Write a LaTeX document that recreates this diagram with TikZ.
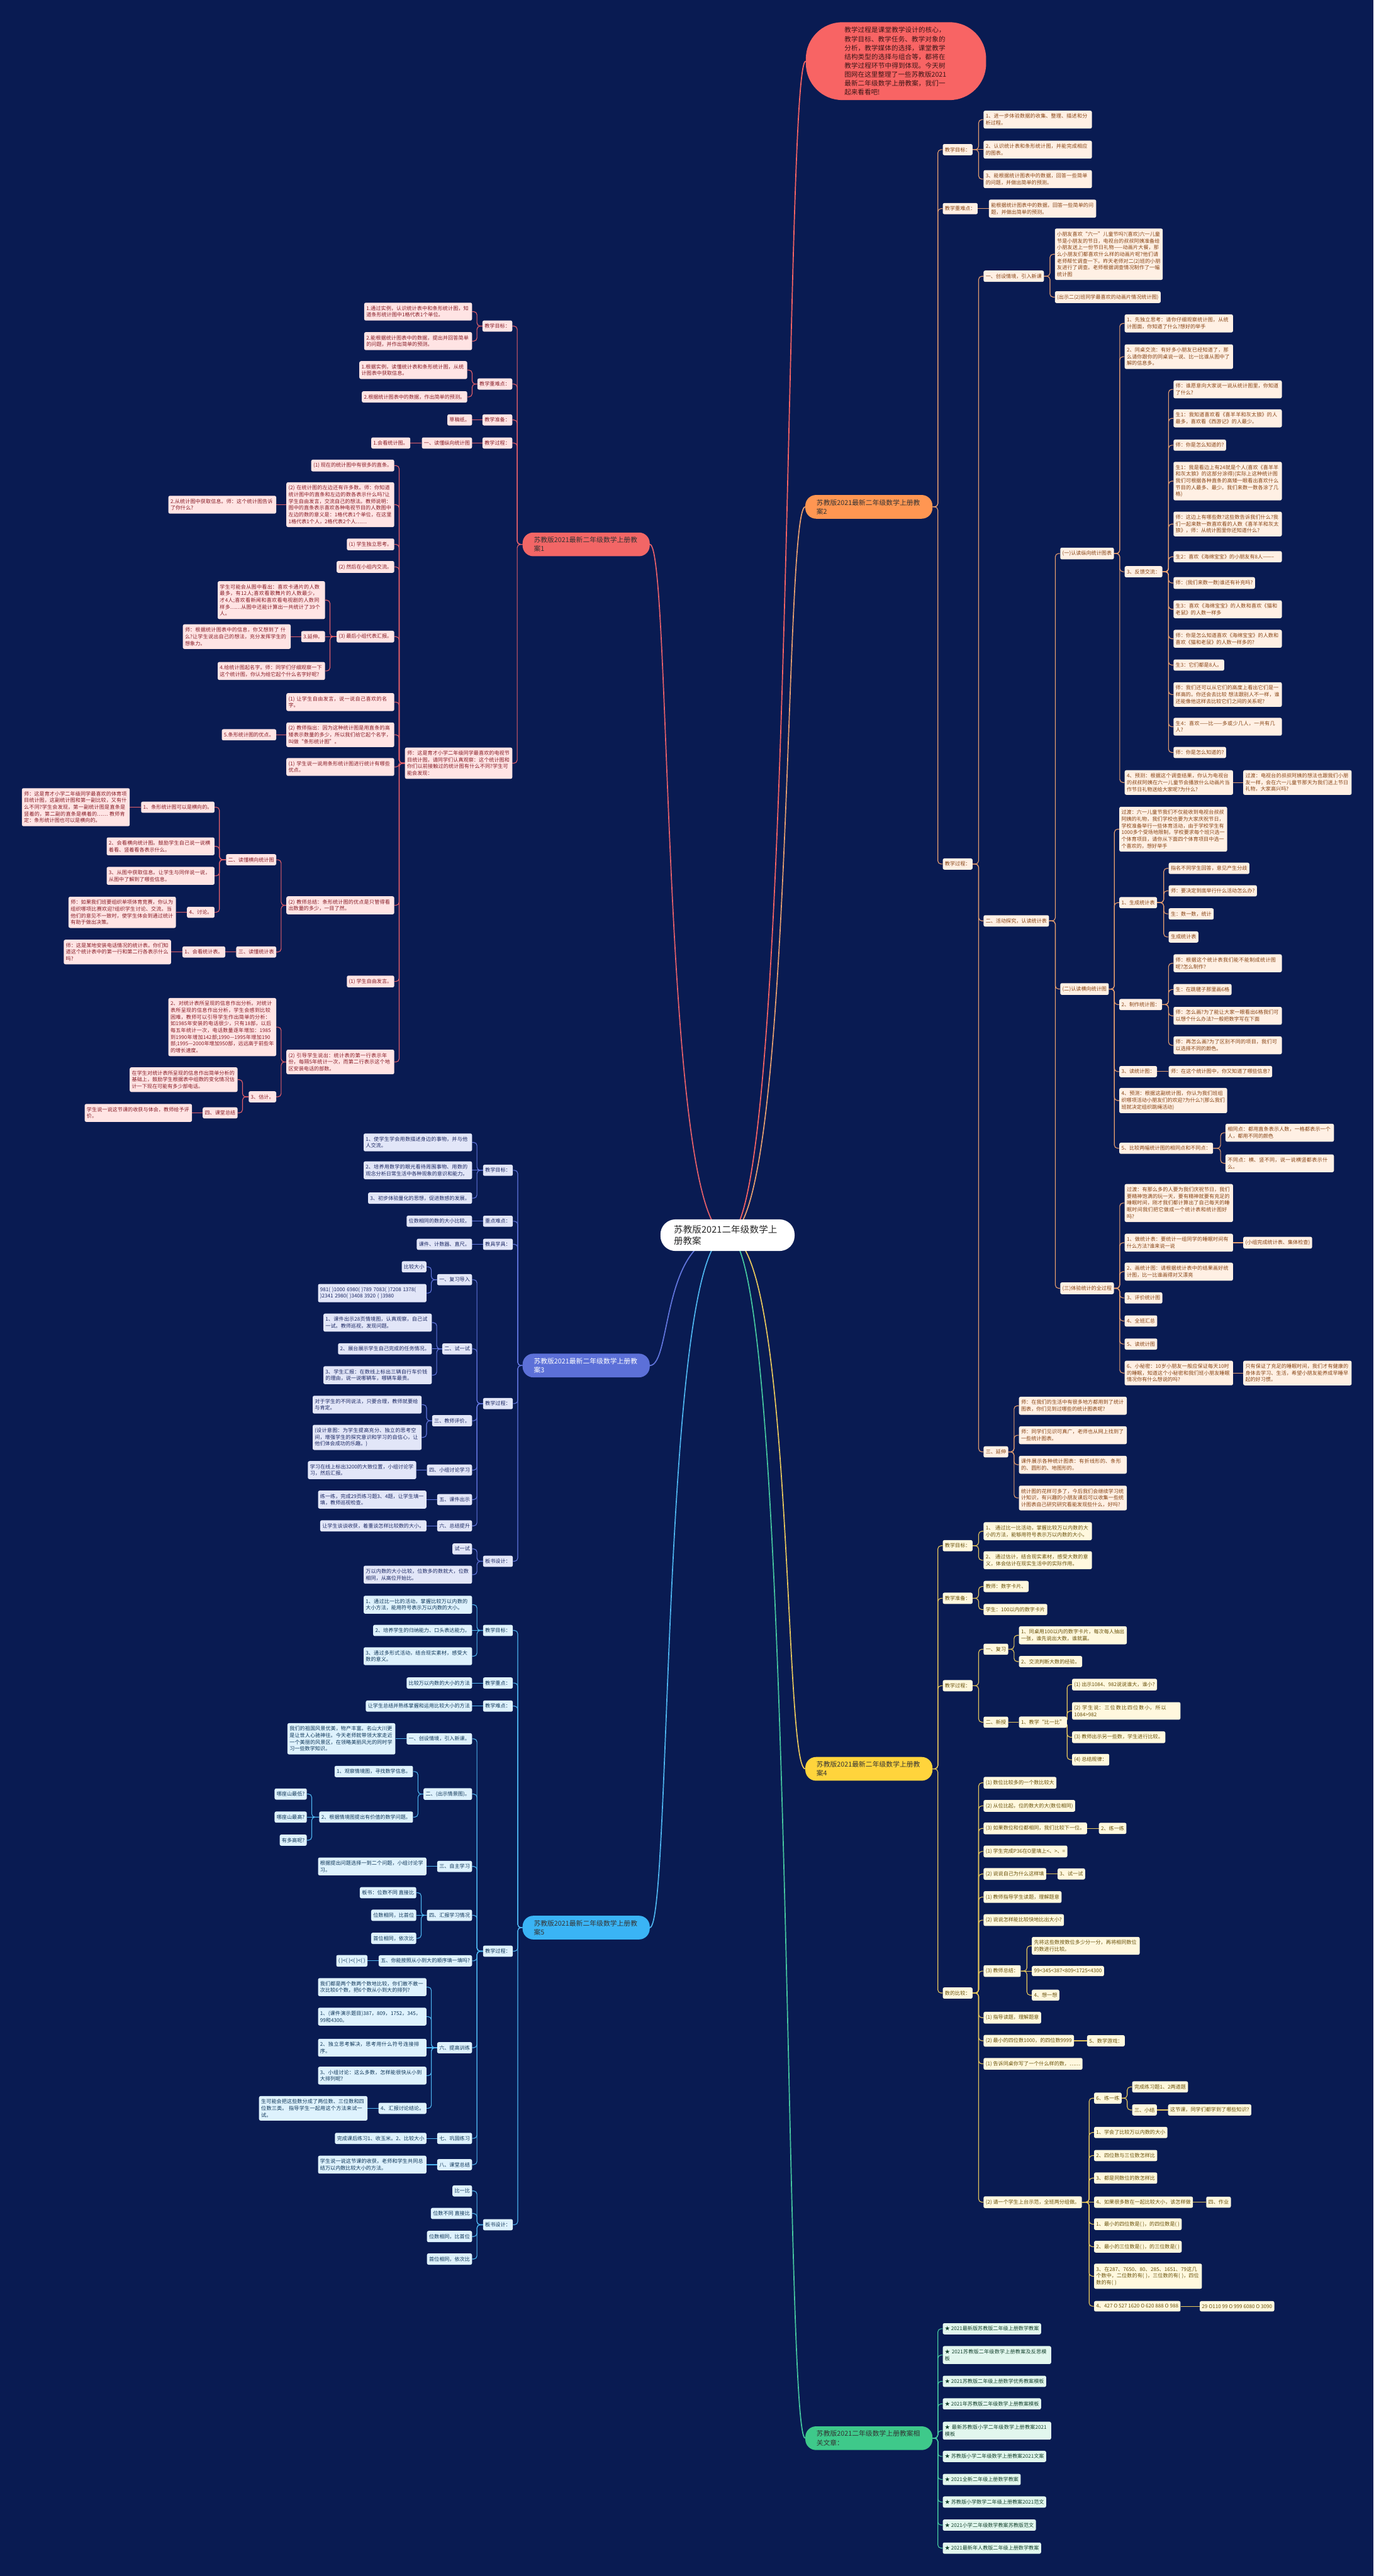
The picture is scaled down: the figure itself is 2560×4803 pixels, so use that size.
\documentclass[tikz,border=0pt]{standalone}
\usepackage{fontspec}
\setmainfont{Noto Sans CJK SC}
\usetikzlibrary{calc}
\XeTeXlinebreaklocale "zh"
\XeTeXlinebreakskip=0pt plus 1pt
\definecolor{bg}{RGB}{9,27,82}
\definecolor{oS}{RGB}{255,150,82}\definecolor{oC}{RGB}{255,240,228}\definecolor{oT}{RGB}{135,68,20}\definecolor{oL}{RGB}{232,160,112}
\definecolor{yS}{RGB}{255,212,60}\definecolor{yC}{RGB}{255,248,222}\definecolor{yT}{RGB}{105,82,10}\definecolor{yL}{RGB}{232,200,92}
\definecolor{gS}{RGB}{62,201,138}\definecolor{gC}{RGB}{226,247,238}\definecolor{gT}{RGB}{22,68,48}\definecolor{gL}{RGB}{70,200,160}
\definecolor{rS}{RGB}{242,102,102}\definecolor{rC}{RGB}{255,228,228}\definecolor{rT}{RGB}{135,28,38}\definecolor{rL}{RGB}{230,96,106}
\definecolor{bS}{RGB}{92,112,216}\definecolor{bC}{RGB}{226,230,248}\definecolor{bT}{RGB}{28,40,100}\definecolor{bL}{RGB}{98,118,222}
\definecolor{lS}{RGB}{58,180,245}\definecolor{lC}{RGB}{222,242,253}\definecolor{lT}{RGB}{14,54,88}\definecolor{lL}{RGB}{78,182,240}
\definecolor{bub}{RGB}{248,100,100}\definecolor{bubT}{RGB}{60,22,22}
\newcommand\fs{\fontsize{9.5}{12.5}\selectfont}
\newcommand\fsec{\fontsize{12.6}{16.5}\selectfont}
\pgfdeclarelayer{bgl}
\pgfsetlayers{bgl,main}
\tikzset{
 nb/.style={rounded corners=3pt, inner xsep=4pt, inner ysep=6pt, align=left, font=\fs},
 kO/.style={nb, fill=oC, text=oT, anchor=west},
 kY/.style={nb, fill=yC, text=yT, anchor=west},
 kG/.style={nb, fill=gC, text=gT, anchor=west},
 kR/.style={nb, fill=rC, text=rT, anchor=east},
 kB/.style={nb, fill=bC, text=bT, anchor=east},
 kL/.style={nb, fill=lC, text=lT, anchor=east},
 secn/.style={rounded corners=20pt, inner xsep=21pt, inner ysep=8pt, align=left, font=\fsec, text width=195pt},
 lk/.style={line width=1.3pt, rounded corners=6pt},
 toR/.style={to path={(\tikztostart.east) -| ($(\tikztotarget.west)+(-9,0)$) -- (\tikztotarget.west)}},
 toL/.style={to path={(\tikztostart.west) -| ($(\tikztotarget.east)+(9,0)$) -- (\tikztotarget.east)}},
 toRs/.style={to path={(\tikztostart.east) -- (\tikztotarget.west)}},
 toLs/.style={to path={(\tikztostart.west) -- (\tikztotarget.east)}},
}
\newcommand\cR[3]{\foreach \q in {#3}{\draw[lk,#1,toR] (#2) to (\q);}}
\newcommand\cL[3]{\foreach \q in {#3}{\draw[lk,#1,toL] (#2) to (\q);}}
\newcommand\sR[3]{\draw[lk,#1,toRs] (#2) to (#3);}
\newcommand\sL[3]{\draw[lk,#1,toLs] (#2) to (#3);}
\begin{document}
\begin{tikzpicture}[x=1pt,y=-1pt]
\useasboundingbox (0,0) rectangle (2560,4803);

% ---------------- root and intro bubble
\node[fill=white, text=black!85, rounded corners=28pt, inner xsep=25pt, inner ysep=11pt, text width=200pt, align=left, font=\fontsize{17}{21}\selectfont] (root) at (1356,2303) {苏教版2021二年级数学上册教案};
\node[fill=bub, text=bubT, rounded corners=68pt, inner xsep=72pt, inner ysep=9pt, text width=192pt, align=left, font=\fontsize{12.4}{16.5}\selectfont] (bub) at (1670,114) {教学过程是课堂教学设计的核心，教学目标、教学任务、教学对象的分析，教学媒体的选择，课堂教学结构类型的选择与组合等，都将在教学过程环节中得到体现。今天树图网在这里整理了一些苏教版2021最新二年级数学上册教案，我们一起来看看吧!};

% ---------------- Section A (orange, right)
\node[secn, fill=oS, text=black!80] (A) at (1619.5,945) {苏教版2021最新二年级数学上册教案2};
\node[kO] (A1) at (1757,279) {教学目标：};
\node[kO] (A2) at (1757,389) {教学重难点：};
\node[kO] (A3) at (1757,1611) {教学过程：};
\node[kO,text width=194pt] (A11) at (1833,223) {1、进一步体验数据的收集、整理、描述和分析过程。};
\node[kO,text width=194pt] (A12) at (1833,279) {2、认识统计表和条形统计图，并能完成相应的图表。};
\node[kO,text width=194pt] (A13) at (1833,334) {3、能根据统计图表中的数据，回答一些简单的问题，并做出简单的预测。};
\node[kO,text width=192pt] (A21) at (1843,389) {能根据统计图表中的数据，回答一些简单的问题，并做出简单的预测。};
\node[kO] (A31) at (1833,515) {一、创设情境，引入新课};
\node[kO] (A32) at (1833,1717) {二、活动探究，认读统计表};
\node[kO] (A33) at (1833,2707) {三、延伸};
\node[kO,text width=193pt] (A311) at (1966,474) {小朋友喜欢“六一”儿童节吗?(喜欢)六一儿童节是小朋友的节日，电视台的叔叔阿姨准备给小朋友送上一份节日礼物——动画片大餐，那么小朋友们都喜欢什么样的动画片呢?他们请老师帮忙调查一下。昨天老师对二(2)班的小朋友进行了调查。老师根据调查情况制作了一幅统计图};
\node[kO] (A312) at (1966,554) {(出示二(2)班同学最喜欢的动画片情况统计图)};
\node[kO] (A321) at (1976,1032) {(一)认读纵向统计图表};
\node[kO] (A322) at (1976,1844) {(二)认读横向统计图};
\node[kO] (A323) at (1976,2402) {(三)体验统计的全过程};
\node[kO,text width=194pt] (A3211) at (2096,603) {1、先独立思考：请你仔细观察统计图，从统计图面，你知道了什么?想好的举手};
\node[kO,text width=194pt] (A3212) at (2096,665) {2、同桌交流：有好多小朋友已经知道了，那么请你跟你的同桌说一说、比一比谁从图中了解的信息多。};
\node[kO] (A3213) at (2096,1066) {3、反馈交流：};
\node[kO,text width=194pt] (A3214) at (2096,1459) {4、预测：根据这个调查结果，你认为电视台的叔叔阿姨在六一儿童节会播放什么动画片当作节日礼物送给大家呢?为什么?};
\node[kO,text width=194pt] (A32141) at (2317,1459) {过渡：电视台的叔叔阿姨的想法也跟我们小朋友一样，会在六一儿童节那天为我们送上节日礼物，大家高兴吗?};
\node[kO,text width=194pt] (F1) at (2187,726) {师：谁愿意向大家说一说从统计图里，你知道了什么?};
\node[kO,text width=194pt] (F2) at (2187,780) {生1：我知道喜欢看《喜羊羊和灰太狼》的人最多，喜欢看《西游记》的人最少。};
\node[kO] (F3) at (2187,830) {师：你是怎么知道的?};
\node[kO,text width=194pt] (F4) at (2187,897) {生1：我是看边上有24就是个人(喜欢《喜羊羊和灰太狼》的这部分涂得)(实际上这种统计图我们可根据各种直条的高矮一眼看出喜欢什么节目的人最多、最少。我们来数一数各涂了几格)};
\node[kO,text width=194pt] (F5) at (2187,977) {师：这边上有哪些数?这些数告诉我们什么?我们一起来数一数喜欢看的人数《喜羊羊和灰太狼》，师：从统计图里你还知道什么?};
\node[kO,text width=194pt] (F6) at (2187,1038) {生2：喜欢《海绵宝宝》的小朋友有8人--------};
\node[kO] (F7) at (2187,1087) {师：(我们来数一数)谁还有补充吗?};
\node[kO,text width=194pt] (F8) at (2187,1136) {生3：喜欢《海绵宝宝》的人数和喜欢《猫和老鼠》的人数一样多};
\node[kO,text width=194pt] (F9) at (2187,1191) {师：你是怎么知道喜欢《海绵宝宝》的人数和喜欢《猫和老鼠》的人数一样多的?};
\node[kO] (F10) at (2187,1240) {生3：它们都是8人。};
\node[kO,text width=194pt] (F11) at (2187,1295) {师：我们还可以从它们的高度上看出它们是一样高的。你还会去比较 想法跟别人不一样，谁还能像他这样去比较它们之间的关系呢?};
\node[kO,text width=194pt] (F12) at (2187,1355) {生4：喜欢------比——多或少几人，一共有几人?};
\node[kO] (F13) at (2187,1403) {师：你是怎么知道的?};
\node[kO,text width=193pt] (G1) at (2086,1546) {过渡：六一儿童节我们不仅能收到电视台叔叔阿姨的礼物，我们学校也要为大家庆祝节日，学校准备举行一些体育活动，由于学校学生有1000多个受场地限制，学校要求每个班只选一个体育项目，请你从下面四个体育项目中选一个喜欢的，想好举手};
\node[kO] (G2) at (2086,1683) {1、生成统计表};
\node[kO] (G21) at (2178,1619) {指名不同学生回答，意见产生分歧};
\node[kO] (G22) at (2178,1661) {师：要决定到底举行什么活动怎么办?};
\node[kO] (G23) at (2178,1704) {生：数一数，统计};
\node[kO] (G24) at (2178,1747) {生成统计表};
\node[kO] (G3) at (2086,1873) {2、制作统计图：};
\node[kO,text width=194pt] (G31) at (2187,1796) {师：根据这个统计表我们能不能制成统计图呢?怎么制作?};
\node[kO] (G32) at (2187,1845) {生：在跳毽子那里画6格};
\node[kO,text width=194pt] (G33) at (2187,1894) {师：怎么画?为了能让大家一眼看出6格我们可以想个什么办法?一般把数字写在下面};
\node[kO,text width=194pt] (G34) at (2187,1949) {师：再怎么画?为了区别不同的项目，我们可以选择不同的颜色。};
\node[kO] (G4) at (2086,1998) {3、读统计图：};
\node[kO] (G41) at (2178,1998) {师：在这个统计图中，你又知道了哪些信息?};
\node[kO,text width=193pt] (G5) at (2086,2052) {4、预测：根据这副统计图，你认为我们班组织哪项活动小朋友们的欢迎?为什么?(那么我们班就决定组织跳绳活动)};
\node[kO] (G6) at (2086,2141) {5、比较两幅统计图的相同点和不同点：};
\node[kO,text width=194pt] (G61) at (2284,2112) {相同点：都用直条表示人数，一格都表示一个人，都用不同的颜色};
\node[kO,text width=194pt] (G62) at (2284,2169) {不同点：横、竖不同，说一说横竖都表示什么。};
\node[kO,text width=194pt] (H1) at (2096,2243) {过渡：有那么多的人要为我们庆祝节日，我们要精神饱满的玩一天，要有精神就要有充足的睡眠时间，刚才我们都计算出了自己每天的睡眠时间我们把它做成一个统计表和统计图好吗?};
\node[kO,text width=194pt] (H2) at (2096,2317) {1、做统计表：要统计一组同学的睡眠时间有什么方法?谁来说一说};
\node[kO] (H21) at (2317,2317) {(小组完成统计表、集体检查)};
\node[kO,text width=194pt] (H3) at (2096,2371) {2、画统计图：请根据统计表中的结果画好统计图，比一比谁画得对又漂亮};
\node[kO] (H4) at (2096,2420) {3、评价统计图};
\node[kO] (H5) at (2096,2463) {4、全班汇总};
\node[kO] (H6) at (2096,2506) {5、读统计图};
\node[kO,text width=194pt] (H7) at (2096,2560) {6、小秘密：10岁小朋友一般应保证每天10时的睡眠，知道这个小秘密和我们班小朋友睡眠情况你有什么想说的吗?};
\node[kO,text width=194pt] (H71) at (2317,2560) {只有保证了充足的睡眠时间，我们才有健康的身体去学习、生活，希望小朋友能养成早睡早起的好习惯。};
\node[kO,text width=193pt] (I1) at (1899,2621) {师：在我们的生活中有很多地方都用到了统计图表，你们见到过哪些的统计图表呢?};
\node[kO,text width=193pt] (I2) at (1899,2676) {师：同学们见识可真广，老师也从网上找到了一些统计图表。};
\node[kO,text width=193pt] (I3) at (1899,2731) {课件展示各种统计图表：有折线形的、条形的、圆形的、地图形的。};
\node[kO,text width=193pt] (I4) at (1899,2793) {统计图的花样可多了，今后我们会继续学习统计知识，有兴趣的小朋友课后可以收集一些统计图表自己研究研究看能发现些什么，好吗?};

% ---------------- Section B (yellow, right)
\node[secn, fill=yS, text=black!80] (B) at (1619.5,3298) {苏教版2021最新二年级数学上册教案4};
\node[kY] (B1) at (1757,2882) {教学目标：};
\node[kY] (B2) at (1757,2980) {教学准备：};
\node[kY] (B3) at (1757,3143) {教学过程：};
\node[kY] (B4) at (1757,3716) {数的比较：};
\node[kY,text width=194pt] (B11) at (1833,2855) {1、 通过比一比活动，掌握比较万以内数的大小的方法，能够用符号表示万以内数的大小。};
\node[kY,text width=194pt] (B12) at (1833,2909) {2、 通过估计，结合现实素材，感受大数的意义，体会估计在现实生活中的实际作用。};
\node[kY] (B21) at (1833,2958) {教师：数字卡片、};
\node[kY] (B22) at (1833,3001) {学生：100以内的数字卡片};
\node[kY] (B31) at (1833,3075) {一、复习};
\node[kY] (B32) at (1833,3211) {二、新授};
\node[kY,text width=193pt] (B311) at (1899,3049) {1、同桌用100以内的数字卡片，每次每人抽出一张，谁先说出大数，谁就赢。};
\node[kY] (B312) at (1899,3098) {2、交流判断大数的经验。};
\node[kY] (B321) at (1899,3211) {1、教学“比一比”};
\node[kY] (B3211) at (1998,3141) {(1) 出示1084、982说说谁大，谁小?};
\node[kY,text width=194pt] (B3212) at (1998,3190) {(2) 学生说：三位数比四位数小，所以1084>982};
\node[kY] (B3213) at (1998,3239) {(3) 教师出示另一些数，学生进行比较。};
\node[kY] (B3214) at (1998,3281) {(4) 总结规律：};
\node[kY] (J1) at (1833,3324) {(1) 数位比较多的一个数比较大};
\node[kY] (J2) at (1833,3367) {(2) 从位比起，位的数大的大(数位相同)};
\node[kY] (J3) at (1833,3409) {(3) 如果数位和位都相同，我们比较下一位。};
\node[kY] (J31) at (2048,3409) {2、练一练};
\node[kY] (J4) at (1833,3452) {(1) 学生完成P36在O里填上<、>、=};
\node[kY] (J5) at (1833,3494) {(2) 说说自己为什么这样填};
\node[kY] (J51) at (1971,3494) {3、试一试};
\node[kY] (J6) at (1833,3537) {(1) 教师指导学生读题，理解题意};
\node[kY] (J7) at (1833,3580) {(2) 说说怎样能比较快地比出大小?};
\node[kY] (J8) at (1833,3675) {(3) 教师总结：};
\node[kY,text width=193pt] (J81) at (1923,3628) {先将这些数按数位多少分一分，再将相同数位的数进行比较。};
\node[kY] (J82) at (1923,3675) {99<345<387<809<1725<4300};
\node[kY] (J83) at (1923,3720) {4、想一想};
\node[kY] (J9) at (1833,3762) {(1) 指导读题，理解题意};
\node[kY] (J10) at (1833,3805) {(2) 最小的四位数1000，的四位数9999};
\node[kY] (J101) at (2026,3805) {5、数学游戏：};
\node[kY] (J11) at (1833,3848) {(1) 告诉同桌你写了一个什么样的数，……};
\node[kY] (J12) at (1833,4106) {(2) 请一个学生上台示范，全班两分组做。};
\node[kY] (K1) at (2039,3912) {6、练一练};
\node[kY] (K11) at (2110,3891) {完成练习题1、2两道题};
\node[kY] (K12) at (2110,3934) {三、小结};
\node[kY] (K121) at (2177,3934) {这节课，同学们都学到了哪些知识?};
\node[kY] (K2) at (2039,3976) {1、学会了比较万以内数的大小};
\node[kY] (K3) at (2039,4019) {2、四位数与三位数怎样比};
\node[kY] (K4) at (2039,4061) {3、都是同数位的数怎样比};
\node[kY] (K5) at (2039,4106) {4、如果很多数在一起比较大小，该怎样做};
\node[kY] (K51) at (2248,4106) {四、作业};
\node[kY] (K6) at (2039,4147) {1、最小的四位数是( )，的四位数是( )};
\node[kY] (K7) at (2039,4189) {2、最小的三位数是( )，的三位数是( )};
\node[kY,text width=193pt] (K8) at (2039,4244) {3、在287、7650、80、285、1651、79这几个数中，二位数的有( )，三位数的有( )，四位数的有( )};
\node[kY] (K9) at (2039,4300) {4、427 O 527 1620 O 620 888 O 988};
\node[kY] (K91) at (2236,4300) {29 O110 99 O 999 6080 O 3090};

% ---------------- Section C (green, right)
\node[secn, fill=gS, text=black!80] (C) at (1619.5,4546) {苏教版2021二年级数学上册教案相关文章：};
\node[kG] (C1) at (1757,4342) {★ 2021最新版苏教版二年级上册数学教案};
\node[kG,text width=194pt] (C2) at (1757,4391) {★ 2021苏教版二年级数学上册教案及反思模板};
\node[kG] (C3) at (1757,4440) {★ 2021苏教版二年级上册数学优秀教案模板};
\node[kG] (C4) at (1757,4482) {★ 2021年苏教版二年级数学上册教案模板};
\node[kG,text width=194pt] (C5) at (1757,4532) {★ 最新苏教版小学二年级数学上册教案2021模板};
\node[kG] (C6) at (1757,4580) {★ 苏教版小学二年级数学上册教案2021文案};
\node[kG] (C7) at (1757,4623) {★ 2021全新二年级上册数学教案};
\node[kG] (C8) at (1757,4665) {★ 苏教版小学数学二年级上册教案2021范文};
\node[kG] (C9) at (1757,4708) {★ 2021小学二年级数学教案苏教版范文};
\node[kG] (C10) at (1757,4751) {★ 2021最新年人教版二年级上册数学教案};

% ---------------- Section D (red, left)
\node[secn, fill=rS, text=black!80] (D) at (1092.5,1015) {苏教版2021最新二年级数学上册教案1};
\node[kR] (D1) at (955,608) {教学目标：};
\node[kR] (D2) at (955,716) {教学重难点：};
\node[kR] (D3) at (955,783) {教学准备：};
\node[kR] (D4) at (955,826) {教学过程：};
\node[kR,text width=192pt] (D5) at (955,1423) {师：这是育才小学二年级同学最喜欢的电视节目统计图，请同学们认真观察：这个统计图和你们以前接触过的统计图有什么不同?学生可能会发现：};
\node[kR,text width=193pt] (D11) at (880,581) {1.通过实例，认识统计表中和条形统计图，知道条形统计图中1格代表1个单位。};
\node[kR,text width=193pt] (D12) at (880,636) {2.能根据统计图表中的数据，提出并回答简单的问题，并作出简单的预测。};
\node[kR,text width=193pt] (D21) at (871,690) {1.根据实例，读懂统计表和条形统计图，从统计图表中获取信息。};
\node[kR] (D22) at (871,740) {2.根据统计图表中的数据，作出简单的预测。};
\node[kR] (D31) at (880,783) {草稿纸。};
\node[kR] (D41) at (880,826) {一、读懂纵向统计图};
\node[kR] (D411) at (765,826) {1.会看统计图。};
\node[kR] (E1) at (735,868) {(1) 现在的统计图中有很多的直条。};
\node[kR,text width=193pt] (E2) at (735,941) {(2) 在统计图的左边还有许多数。师：你知道统计图中的直条和左边的数各表示什么吗?让学生自由发言，交流自己的想法。教师说明：图中的直条表示喜欢各种电视节目的人数图中左边的数的意义是：1格代表1个单位，在这里1格代表1个人，2格代表2个人……};
\node[kR,text width=193pt] (E21) at (515,941) {2.从统计图中获取信息。师：这个统计图告诉了你什么?};
\node[kR] (E3) at (735,1015) {(1) 学生独立思考。};
\node[kR] (E4) at (735,1057) {(2) 然后在小组内交流。};
\node[kR] (E5) at (735,1187) {(3) 最后小组代表汇报。};
\node[kR,text width=192pt] (E51) at (606,1119) {学生可能会从图中看出：喜欢卡通片的人数最多，有12人;喜欢看歌舞片的人数最少，才4人;喜欢看新闻和喜欢看电视剧的人数同样多……从图中还能计算出一共统计了39个人。};
\node[kR] (E52) at (606,1187) {3.延伸。};
\node[kR,text width=193pt] (E521) at (542,1187) {师：根据统计图表中的信息，你又想到了 什么?让学生说出自己的想法，充分发挥学生的想象力。};
\node[kR,text width=192pt] (E53) at (606,1251) {4.给统计图起名字。师：同学们仔细观察一下这个统计图，你认为给它起个什么名字好呢?};
\node[kR,text width=193pt] (E6) at (735,1309) {(1) 让学生自由发言，说一说自己喜欢的名字。};
\node[kR,text width=193pt] (E7) at (735,1370) {(2) 教师指出：因为这种统计图是用直条的高矮表示数量的多少，所以我们给它起个名字，叫做“条形统计图”。};
\node[kR] (E71) at (515,1370) {5.条形统计图的优点。};
\node[kR,text width=193pt] (E8) at (735,1430) {(1) 学生说一说用条形统计图进行统计有哪些优点。};
\node[kR,text width=193pt] (E9) at (735,1688) {(2) 教师总结：条形统计图的优点是只管得看出数量的多少，一目了然。};
\node[kR] (E91) at (515,1603) {二、读懂横向统计图};
\node[kR] (E911) at (400,1505) {1、条形统计图可以是横向的。};
\node[kR,text width=193pt] (E9111) at (242,1505) {师：这是育才小学二年级同学最喜欢的体育项目统计图，这副统计图和第一副比较，又有什么不同?学生会发现，第一副统计图是直条是竖着的，第二副的直条是横着的…… 教师肯定：条形统计图也可以是横向的。};
\node[kR,text width=193pt] (E912) at (400,1578) {2、会看横向统计图。鼓励学生自己说一说横着看、竖着看各表示什么。};
\node[kR,text width=193pt] (E913) at (400,1633) {3、从图中获取信息。让学生与同伴说一说，从图中了解到了哪些信息。};
\node[kR] (E914) at (400,1701) {4、讨论。};
\node[kR,text width=192pt] (E9141) at (328,1701) {师：如果我们班要组织单项体育竞赛，你认为组织哪项比赛欢迎?组织学生讨论、交流。当他们的意见不一致时，使学生体会到通过统计有助于做出决策。};
\node[kR] (E92) at (515,1775) {三、读懂统计表};
\node[kR] (E921) at (420,1775) {1、会看统计表。};
\node[kR,text width=192pt] (E9211) at (319,1775) {师：这是某地安装电话情况的统计表。你们知道这个统计表中的第一行和第二行各表示什么吗?};
\node[kR] (E10) at (735,1830) {(1) 学生自由发言。};
\node[kR,text width=193pt] (E11) at (735,1980) {(2) 引导学生说出：统计表的第一行表示年份，每隔5年统计一次，而第二行表示这个地区安装电话的部数。};
\node[kR,text width=193pt] (E111) at (515,1915) {2、对统计表所呈现的信息作出分析。对统计表所呈现的信息作出分析，学生会感到比较困难，教师可以引导学生作出简单的分析：如1985年安装的电话很少，只有18部，以后每五年统计一次，电话数量逐年增加：1985到1990年增加142部;1990—1995年增加190部;1995—2000年增加950部，远远高于前些年的增长速度。};
\node[kR] (E112) at (515,2045) {3、估计。};
\node[kR,text width=193pt] (E1121) at (443,2013) {在学生对统计表所呈现的信息作出简单分析的基础上，鼓励学生根据表中组数的变化情况估计一下现在可能有多少部电话。};
\node[kR] (E1122) at (443,2075) {四、课堂总结};
\node[kR,text width=192pt] (E11221) at (358,2075) {学生说一说这节课的收获与体会，教师给予评价。};

% ---------------- Section P (blue, left)
\node[secn, fill=bS, text=white] (P) at (1092.5,2546) {苏教版2021最新二年级数学上册教案3};
\node[kB] (P1) at (956,2182) {教学目标：};
\node[kB] (P2) at (956,2277) {重点难点：};
\node[kB] (P3) at (956,2320) {教具学具：};
\node[kB] (P4) at (956,2617) {教学过程：};
\node[kB] (P5) at (956,2911) {板书设计：};
\node[kB,text width=194pt] (P11) at (880,2130) {1、使学生学会用数描述身边的事物，并与他人交流。};
\node[kB,text width=194pt] (P12) at (880,2182) {2、培养用数学的眼光看待周围事物、用数的观念分析日常生活中各种现象的意识和能力。};
\node[kB] (P13) at (880,2234) {3、初步体验量化的思想，促进数感的发展。};
\node[kB] (P21) at (880,2277) {位数相同的数的大小比较。};
\node[kB] (P31) at (880,2320) {课件、计数器、直尺。};
\node[kB] (P41) at (880,2386) {一、复习导入};
\node[kB] (P411) at (795,2362) {比较大小};
\node[kB,text width=194pt] (P412) at (795,2411) {981( )1000 6980( )789 7083( )7208 1378( )2341 2980( )3408 3920 ( )3980};
\node[kB] (P42) at (880,2515) {二、试一试};
\node[kB,text width=194pt] (P421) at (805,2466) {1、课件出示28页情境图，认真观察，自己试一试。教师巡视，发现问题。};
\node[kB] (P422) at (805,2515) {2、展台展示学生自己完成的任务情况。};
\node[kB,text width=194pt] (P423) at (805,2564) {3、学生汇报：在数线上标出三辆自行车价钱的理由，说一说哪辆车，哪辆车最贵。};
\node[kB] (P43) at (880,2649) {三、教师评价。};
\node[kB,text width=195pt] (P431) at (786,2619) {对于学生的不同说法，只要合理，教师就要给与肯定。};
\node[kB,text width=195pt] (P432) at (786,2680) {(设计意图：为学生提高充分、独立的思考空间，增强学生的探究意识和学习的自信心，让他们体会成功的乐趣。)};
\node[kB] (P44) at (880,2741) {四、小组讨论学习};
\node[kB,text width=194pt] (P441) at (776,2741) {学习在线上标出3200的大致位置，小组讨论学习，然后汇报。};
\node[kB] (P45) at (880,2796) {五、课件出示};
\node[kB,text width=194pt] (P451) at (795,2796) {练一练，完成29页练习题3、4题，让学生填一填，教师巡视检查。};
\node[kB] (P46) at (880,2845) {六、总结提升};
\node[kB] (P461) at (795,2845) {让学生谈谈收获，着重谈怎样比较数的大小。};
\node[kB] (P51) at (880,2888) {试一试};
\node[kB,text width=194pt] (P52) at (880,2936) {万以内数的大小比较，位数多的数就大，位数相同，从高位开始比。};

% ---------------- Section Q (light blue, left)
\node[secn, fill=lS, text=black!80] (Q) at (1092.5,3594) {苏教版2021最新二年级数学上册教案5};
\node[kL] (Q1) at (956,3040) {教学目标：};
\node[kL] (Q2) at (956,3138) {教学重点：};
\node[kL] (Q3) at (956,3181) {教学难点：};
\node[kL] (Q4) at (956,3638) {教学过程：};
\node[kL] (Q5) at (956,4148) {板书设计：};
\node[kL,text width=194pt] (Q11) at (880,2992) {1、通过比一比的活动，掌握比较万以内数的大小方法，能用符号表示万以内数的大小。};
\node[kL] (Q12) at (880,3040) {2、培养学生的归纳能力、口头表达能力。};
\node[kL,text width=194pt] (Q13) at (880,3088) {3、通过多形式活动，结合现实素材，感受大数的意义。};
\node[kL] (Q21) at (880,3138) {比较万以内数的大小的方法};
\node[kL] (Q31) at (880,3181) {让学生总结并熟练掌握和运用比较大小的方法};
\node[kL] (Q41) at (880,3242) {一、创设情境，引入新课。};
\node[kL,text width=193pt] (Q411) at (737,3242) {我们的祖国风景优美，物产丰富。名山大川更是让世人心驰神往。今天老师就带领大家走近一个美丽的风景区，在领略美丽风光的同时学习一些数学知识。};
\node[kL] (Q42) at (880,3345) {二、(出示情景图)。};
\node[kL] (Q421) at (770,3303) {1、观察情境图，寻找数学信息。};
\node[kL] (Q422) at (770,3388) {2、根据情境图提出有价值的数学问题。};
\node[kL] (Q4221) at (572,3345) {哪座山最低?};
\node[kL] (Q4222) at (572,3388) {哪座山最高?};
\node[kL] (Q4223) at (572,3431) {有多高呢?};
\node[kL] (Q43) at (880,3480) {三、自主学习};
\node[kL,text width=194pt] (Q431) at (795,3480) {根据提出问题选择一到二个问题，小组讨论学习。};
\node[kL] (Q44) at (880,3571) {四、汇报学习情况};
\node[kL] (Q441) at (776,3529) {板书：位数不同 直接比};
\node[kL] (Q442) at (776,3571) {位数相同，比首位};
\node[kL] (Q443) at (776,3614) {首位相同，依次比};
\node[kL] (Q45) at (880,3656) {五、你能按照从小到大的顺序填一填吗?};
\node[kL] (Q451) at (685,3656) {( )<( )<( )<( )};
\node[kL] (Q46) at (880,3818) {六、提高训练};
\node[kL,text width=194pt] (Q461) at (795,3705) {我们都是两个数两个数地比较，你们敢不敢一次比较6个数，把6个数从小到大的排列?};
\node[kL,text width=194pt] (Q462) at (795,3760) {1、(课件演示题目)387，809，1752，345，99和4300。};
\node[kL,text width=194pt] (Q463) at (795,3818) {2、独立思考解决，思考用什么符号连接排序。};
\node[kL,text width=194pt] (Q464) at (795,3870) {3、小组讨论：这么多数，怎样能很快从小到大排列呢?};
\node[kL] (Q465) at (795,3931) {4、汇报讨论结论。};
\node[kL,text width=194pt] (Q4651) at (685,3931) {生可能会把这些数分成了两位数、三位数和四位数三类。 指导学生一起用这个方法来试一试。};
\node[kL] (Q47) at (880,3987) {七、巩固练习};
\node[kL] (Q471) at (795,3987) {完成课后练习1、收玉米。2、比较大小};
\node[kL] (Q48) at (880,4036) {八、课堂总结};
\node[kL,text width=194pt] (Q481) at (795,4036) {学生说一说这节课的收获，老师和学生共同总结万以内数比较大小的方法。};
\node[kL] (Q51) at (880,4085) {比一比};
\node[kL] (Q52) at (880,4127) {位数不同 直接比};
\node[kL] (Q53) at (880,4170) {位数相同，比首位};
\node[kL] (Q54) at (880,4212) {首位相同，依次比};

% ---------------- background and connectors
\begin{pgfonlayer}{bgl}
\fill[bg] (0,0) rectangle (2560,4803);
% level 1
\draw[line width=2pt, draw=bub] (root.center) .. controls +(124,0) and +(-41,0) .. (bub.west);
\draw[line width=2pt, draw=oL] (root.center) .. controls +(124,0) and +(-41,0) .. (A.west);
\draw[line width=2pt, draw=yL] (root.center) .. controls +(124,0) and +(-41,0) .. (B.west);
\draw[line width=2pt, draw=gL] (root.center) .. controls +(124,0) and +(-41,0) .. (C.west);
\draw[line width=2pt, draw=rL] (root.center) .. controls +(-124,0) and +(41,0) .. (D.east);
\draw[line width=2pt, draw=bL] (root.center) .. controls +(-124,0) and +(41,0) .. (P.east);
\draw[line width=2pt, draw=lL] (root.center) .. controls +(-124,0) and +(41,0) .. (Q.east);
% section A
\cR{draw=oL}{A}{A1,A2,A3}
\cR{draw=oL}{A1}{A11,A13}
\sR{draw=oL}{A1}{A12}
\sR{draw=oL}{A2}{A21}
\cR{draw=oL}{A3}{A31,A32,A33}
\cR{draw=oL}{A31}{A311,A312}
\cR{draw=oL}{A32}{A321,A322,A323}
\cR{draw=oL}{A321}{A3211,A3212,A3213,A3214}
\cR{draw=oL}{A3213}{F1,F2,F3,F4,F5,F6,F7,F8,F9,F10,F11,F12,F13}
\sR{draw=oL}{A3214}{A32141}
\cR{draw=oL}{A322}{G1,G2,G3,G4,G5,G6}
\cR{draw=oL}{G2}{G21,G22,G23,G24}
\cR{draw=oL}{G3}{G31,G32,G33,G34}
\sR{draw=oL}{G4}{G41}
\cR{draw=oL}{G6}{G61,G62}
\cR{draw=oL}{A323}{H1,H2,H3,H4,H5,H6,H7}
\sR{draw=oL}{H2}{H21}
\sR{draw=oL}{H7}{H71}
\cR{draw=oL}{A33}{I1,I2,I3,I4}
% section B
\cR{draw=yL}{B}{B1,B2,B3,B4}
\cR{draw=yL}{B1}{B11,B12}
\cR{draw=yL}{B2}{B21,B22}
\cR{draw=yL}{B3}{B31,B32}
\cR{draw=yL}{B31}{B311,B312}
\sR{draw=yL}{B32}{B321}
\cR{draw=yL}{B321}{B3211,B3212,B3213,B3214}
\cR{draw=yL}{B4}{J1,J2,J3,J4,J5,J6,J7,J8,J9,J10,J11,J12}
\sR{draw=yL}{J3}{J31}
\sR{draw=yL}{J5}{J51}
\cR{draw=yL}{J8}{J81,J83}
\sR{draw=yL}{J8}{J82}
\sR{draw=yL}{J10}{J101}
\cR{draw=yL}{J12}{K1,K2,K3,K4,K6,K7,K8,K9}
\sR{draw=yL}{J12}{K5}
\cR{draw=yL}{K1}{K11,K12}
\sR{draw=yL}{K12}{K121}
\sR{draw=yL}{K5}{K51}
\sR{draw=yL}{K9}{K91}
% section C
\cR{draw=gL}{C}{C1,C2,C3,C4,C5,C6,C7,C8,C9,C10}
% section D
\cL{draw=rL}{D}{D1,D2,D3,D4,D5}
\cL{draw=rL}{D1}{D11,D12}
\cL{draw=rL}{D2}{D21,D22}
\sL{draw=rL}{D3}{D31}
\sL{draw=rL}{D4}{D41}
\sL{draw=rL}{D41}{D411}
\cL{draw=rL}{D5}{E1,E2,E3,E4,E5,E6,E7,E8,E9,E10,E11}
\sL{draw=rL}{E2}{E21}
\cL{draw=rL}{E5}{E51,E53}
\sL{draw=rL}{E5}{E52}
\sL{draw=rL}{E52}{E521}
\sL{draw=rL}{E7}{E71}
\cL{draw=rL}{E9}{E91,E92}
\cL{draw=rL}{E91}{E911,E912,E913,E914}
\sL{draw=rL}{E911}{E9111}
\sL{draw=rL}{E914}{E9141}
\sL{draw=rL}{E92}{E921}
\sL{draw=rL}{E921}{E9211}
\cL{draw=rL}{E11}{E111,E112}
\cL{draw=rL}{E112}{E1121,E1122}
\sL{draw=rL}{E1122}{E11221}
% section P
\cL{draw=bL}{P}{P1,P2,P3,P4,P5}
\cL{draw=bL}{P1}{P11,P13}
\sL{draw=bL}{P1}{P12}
\sL{draw=bL}{P2}{P21}
\sL{draw=bL}{P3}{P31}
\cL{draw=bL}{P4}{P41,P42,P43,P44,P45,P46}
\cL{draw=bL}{P41}{P411,P412}
\cL{draw=bL}{P42}{P421,P423}
\sL{draw=bL}{P42}{P422}
\cL{draw=bL}{P43}{P431,P432}
\sL{draw=bL}{P44}{P441}
\sL{draw=bL}{P45}{P451}
\sL{draw=bL}{P46}{P461}
\cL{draw=bL}{P5}{P51,P52}
% section Q
\cL{draw=lL}{Q}{Q1,Q2,Q3,Q4,Q5}
\cL{draw=lL}{Q1}{Q11,Q13}
\sL{draw=lL}{Q1}{Q12}
\sL{draw=lL}{Q2}{Q21}
\sL{draw=lL}{Q3}{Q31}
\cL{draw=lL}{Q4}{Q41,Q42,Q43,Q44,Q45,Q46,Q47,Q48}
\sL{draw=lL}{Q41}{Q411}
\cL{draw=lL}{Q42}{Q421,Q422}
\cL{draw=lL}{Q422}{Q4221,Q4223}
\sL{draw=lL}{Q422}{Q4222}
\sL{draw=lL}{Q43}{Q431}
\cL{draw=lL}{Q44}{Q441,Q443}
\sL{draw=lL}{Q44}{Q442}
\sL{draw=lL}{Q45}{Q451}
\cL{draw=lL}{Q46}{Q461,Q462,Q464,Q465}
\sL{draw=lL}{Q46}{Q463}
\sL{draw=lL}{Q465}{Q4651}
\sL{draw=lL}{Q47}{Q471}
\sL{draw=lL}{Q48}{Q481}
\cL{draw=lL}{Q5}{Q51,Q52,Q53,Q54}
\end{pgfonlayer}
\end{tikzpicture}
\end{document}
